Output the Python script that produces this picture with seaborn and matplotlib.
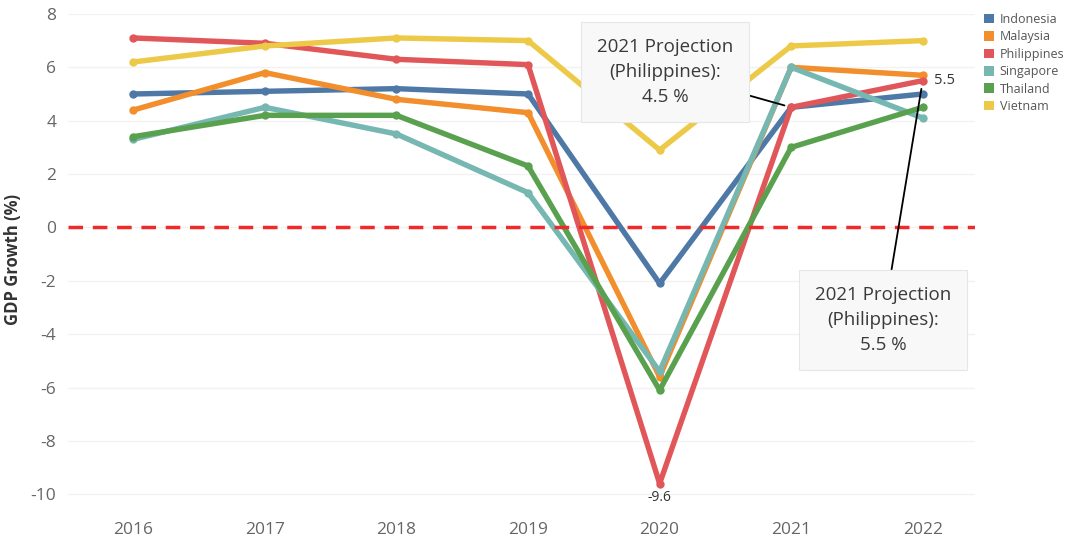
import matplotlib
matplotlib.use("Agg")
import matplotlib.pyplot as plt
from matplotlib.patches import Patch
import seaborn as sns
import pandas as pd

years = [2016, 2017, 2018, 2019, 2020, 2021, 2022]
countries = ["Indonesia", "Malaysia", "Philippines", "Singapore", "Thailand", "Vietnam"]
indonesia = [5.0, 5.1, 5.2, 5.0, -2.1, 4.5, 5.0]
malaysia = [4.4, 5.8, 4.8, 4.3, -5.6, 6.0, 5.7]
philippines = [7.1, 6.9, 6.3, 6.1, -9.6, 4.5, 5.5]
singapore = [3.3, 4.5, 3.5, 1.3, -5.4, 6.0, 4.1]
thailand = [3.4, 4.2, 4.2, 2.3, -6.1, 3.0, 4.5]
vietnam = [6.2, 6.8, 7.1, 7.0, 2.9, 6.8, 7.0]
colors = ["#4e79a7", "#f28e2b", "#e15759", "#76b7b2", "#59a14f", "#edc948"]
yticks = [-10, -8, -6, -4, -2, 0, 2, 4, 6, 8]

series = [indonesia, malaysia, philippines, singapore, thailand, vietnam]
df = pd.DataFrame(
    [(c, y, v) for c, vals in zip(countries, series) for y, v in zip(years, vals)],
    columns=["Country", "Year", "Growth"],
)

sns.set_theme(style="white")
plt.rcParams["font.family"] = ["Open Sans", "DejaVu Sans"]
plt.rcParams["axes.unicode_minus"] = False

fig = plt.figure(figsize=(10.73, 5.36), dpi=100)
ax = fig.add_axes([0.063, 0.058, 0.846, 0.916])

palette = dict(zip(countries, colors))
sns.lineplot(data=df, x="Year", y="Growth", hue="Country", palette=palette,
             hue_order=countries, linewidth=3.9, marker="o", markersize=6,
             markeredgewidth=0, legend=False, ax=ax, zorder=3)

ax.axhline(0, color="#ee2a2a", lw=2.5, ls=(0, (4.2, 2.8)), zorder=4)

ax.set_xlim(2015.5, 2022.4)
ax.set_ylim(-10.4, 8.0)
ax.set_xticks(years)
ax.set_xticklabels([str(y) for y in years])
ax.set_yticks(yticks)
ax.tick_params(axis="both", colors="#666666", labelsize=12.5, length=0)
ax.tick_params(axis="x", pad=12)
ax.tick_params(axis="y", pad=8)
ax.grid(axis="y", color="#f2f2f2", lw=1)
for s in ax.spines.values():
    s.set_visible(False)
ax.set_xlabel("")
ax.set_ylabel("GDP Growth (%)", fontsize=12, fontweight="bold", color="#333333", labelpad=6)

# value labels
ax.annotate("5.5", xy=(2022, 5.5), xytext=(8, 0), textcoords="offset points",
            fontsize=10.5, color="#333333", va="center", ha="left", zorder=6)
ax.annotate("-9.6", xy=(2020, -9.6), xytext=(0, -10), textcoords="offset points",
            fontsize=10, color="#333333", va="center", ha="center", zorder=6)

box = dict(boxstyle="square,pad=0.85", facecolor="#f8f8f8", edgecolor="#e6e6e6", lw=0.8)
ax.annotate("2021 Projection\n(Philippines):\n4.5 %", xy=(2021, 4.5), xytext=(2020.04, 5.83),
            textcoords="data", ha="center", va="center", fontsize=13.5, color="#3a3a3a",
            linespacing=1.5, bbox=box, zorder=7,
            arrowprops=dict(arrowstyle="-", color="black", lw=1.3, shrinkA=0, shrinkB=5))
ax.annotate("2021 Projection\n(Philippines):\n5.5 %", xy=(2022, 5.5), xytext=(2021.7, -3.46),
            textcoords="data", ha="center", va="center", fontsize=13.5, color="#3a3a3a",
            linespacing=1.5, bbox=box, zorder=7,
            arrowprops=dict(arrowstyle="-", color="black", lw=1.3, shrinkA=0, shrinkB=6))

handles = [Patch(facecolor=c, edgecolor="none") for c in colors]
fig.legend(handles, countries, loc="upper left", bbox_to_anchor=(0.912, 0.985),
           frameon=False, fontsize=9, labelcolor="#555555", handlelength=0.8,
           handleheight=0.8, handletextpad=0.5, labelspacing=0.35, borderaxespad=0)

fig.savefig("out.png", dpi=100)
